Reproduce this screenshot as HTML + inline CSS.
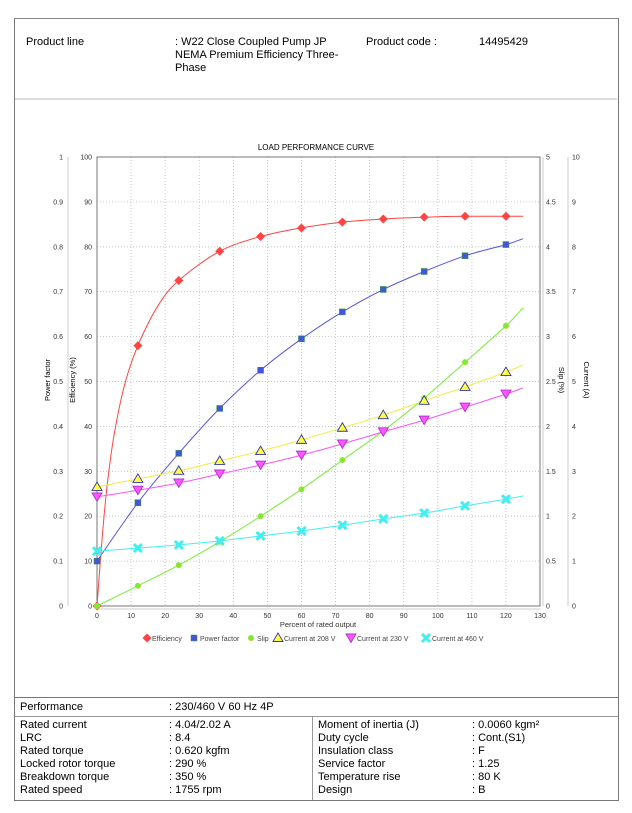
<!DOCTYPE html>
<html><head><meta charset="utf-8"><style>
body{margin:0;background:#fff;width:632px;height:813px;position:relative;font-family:"Liberation Sans",sans-serif;overflow:hidden}
.t{position:absolute;font-size:11px;color:#000;white-space:nowrap;line-height:13px}
</style></head><body>
<div style="position:absolute;left:14px;top:18px;width:603px;height:781px;border:1px solid #777;border-top:1px solid #888"></div>
<div style="position:absolute;left:15px;top:98px;width:602px;height:2px;background:#ddd"></div>
<div class="t" style="left:26px;top:36px">Product line</div>
<div class="t" style="left:175px;top:36px">: W22 Close Coupled Pump JP<br>NEMA Premium Efficiency Three-<br>Phase</div>
<div class="t" style="left:366px;top:36px">Product code :</div>
<div class="t" style="left:479px;top:36px">14495429</div>
<div style="position:absolute;left:14px;top:697px;width:604px;height:1px;background:#777"></div>
<div style="position:absolute;left:14px;top:716px;width:604px;height:1px;background:#999"></div>
<div style="position:absolute;left:312px;top:716px;width:1px;height:84px;background:#999"></div>
<div class="t" style="left:20px;top:701px">Performance</div>
<div class="t" style="left:169px;top:701px">: 230/460 V 60 Hz 4P</div>
<div class="t" style="left:20px;top:719px">Rated current<br>LRC<br>Rated torque<br>Locked rotor torque<br>Breakdown torque<br>Rated speed</div>
<div class="t" style="left:169px;top:719px">: 4.04/2.02 A<br>: 8.4<br>: 0.620 kgfm<br>: 290 %<br>: 350 %<br>: 1755 rpm</div>
<div class="t" style="left:318px;top:719px">Moment of inertia (J)<br>Duty cycle<br>Insulation class<br>Service factor<br>Temperature rise<br>Design</div>
<div class="t" style="left:472px;top:719px">: 0.0060 kgm²<br>: Cont.(S1)<br>: F<br>: 1.25<br>: 80 K<br>: B</div>

<svg id="c" width="632" height="813" style="position:absolute;left:0;top:0" font-family="Liberation Sans, sans-serif" font-size="7">
<text x="316" y="150" font-size="8" text-anchor="middle">LOAD PERFORMANCE CURVE</text>
<g id="grid" stroke="#bbb" stroke-dasharray="1,2" stroke-width="0.8"></g>
<rect x="97" y="157" width="443" height="449" fill="none" stroke="#555" stroke-width="0.8"/>
<line x1="68" y1="157" x2="68" y2="606" stroke="#ccc"/>
<line x1="568" y1="157" x2="568" y2="606" stroke="#ccc"/>
<line x1="543" y1="157" x2="543" y2="606" stroke="#ccc"/>
<line x1="97" y1="609" x2="540" y2="609" stroke="#ccc"/>
<g text-anchor="end" fill="#333">
<text x="63" y="608.5">0</text><text x="63" y="563.6">0.1</text><text x="63" y="518.7">0.2</text><text x="63" y="473.8">0.3</text><text x="63" y="428.9">0.4</text><text x="63" y="384">0.5</text><text x="63" y="339.1">0.6</text><text x="63" y="294.2">0.7</text><text x="63" y="249.3">0.8</text><text x="63" y="204.4">0.9</text><text x="63" y="159.5">1</text>
<text x="92" y="608.5">0</text><text x="92" y="563.6">10</text><text x="92" y="518.7">20</text><text x="92" y="473.8">30</text><text x="92" y="428.9">40</text><text x="92" y="384">50</text><text x="92" y="339.1">60</text><text x="92" y="294.2">70</text><text x="92" y="249.3">80</text><text x="92" y="204.4">90</text><text x="92" y="159.5">100</text>
</g>
<g fill="#333">
<text x="546" y="608.5">0</text><text x="546" y="563.6">0.5</text><text x="546" y="518.7">1</text><text x="546" y="473.8">1.5</text><text x="546" y="428.9">2</text><text x="546" y="384">2.5</text><text x="546" y="339.1">3</text><text x="546" y="294.2">3.5</text><text x="546" y="249.3">4</text><text x="546" y="204.4">4.5</text><text x="546" y="159.5">5</text>
<text x="572" y="608.5">0</text><text x="572" y="563.6">1</text><text x="572" y="518.7">2</text><text x="572" y="473.8">3</text><text x="572" y="428.9">4</text><text x="572" y="384">5</text><text x="572" y="339.1">6</text><text x="572" y="294.2">7</text><text x="572" y="249.3">8</text><text x="572" y="204.4">9</text><text x="572" y="159.5">10</text>
</g>
<g text-anchor="middle" fill="#333">
<text x="97" y="618">0</text><text x="131.1" y="618">10</text><text x="165.2" y="618">20</text><text x="199.2" y="618">30</text><text x="233.3" y="618">40</text><text x="267.4" y="618">50</text><text x="301.5" y="618">60</text><text x="335.6" y="618">70</text><text x="369.6" y="618">80</text><text x="403.7" y="618">90</text><text x="437.8" y="618">100</text><text x="471.9" y="618">110</text><text x="505.9" y="618">120</text><text x="540" y="618">130</text>
<text x="318" y="627" font-size="7.5">Percent of rated output</text>
</g>
<text transform="translate(50,380) rotate(-90)" text-anchor="middle" font-size="7.5">Power factor</text>
<text transform="translate(75,380) rotate(-90)" text-anchor="middle" font-size="7.5">Efficiency (%)</text>
<text transform="translate(559,380) rotate(90)" text-anchor="middle" font-size="7.5">Slip (%)</text>
<text transform="translate(584,380) rotate(90)" text-anchor="middle" font-size="7.5">Current (A)</text>
<g id="series"></g>
<g id="legend" fill="#444" font-size="7">
<text x="152" y="641">Efficiency</text><text x="200" y="641">Power factor</text><text x="257" y="641">Slip</text><text x="284" y="641">Current at 208 V</text><text x="357" y="641">Current at 230 V</text><text x="432" y="641">Current at 460 V</text>
</g>
</svg>
<script>
var NS="http://www.w3.org/2000/svg",g=document.getElementById('grid'),s=document.getElementById('series'),L=document.getElementById('legend');
function el(p,n,a){var e=document.createElementNS(NS,n);for(var k in a)e.setAttribute(k,a[k]);p.appendChild(e);return e;}
for(var i=1;i<13;i++){var x=97+i*34.08;el(g,'line',{x1:x,y1:157,x2:x,y2:606});}
for(var i=1;i<10;i++){var y=606-i*44.9;el(g,'line',{x1:97,y1:y,x2:540,y2:y});}
function X(v){return 97+v*3.408}
function Y(f){return 606-f*449}
var S=[
{c:'#f44',m:'d',curve:[[0,0],[1.5,.15],[3,.27],[5,.38],[8,.49],[12,.58],[18,.67],[24,.725],[36,.79],[48,.823],[60,.842],[72,.855],[84,.862],[96,.866],[108,.868],[120,.868],[125,.868]],pts:[[12,.58],[24,.725],[36,.79],[48,.823],[60,.842],[72,.855],[84,.862],[96,.866],[108,.868],[120,.868]]},
{c:'#55d',m:'s',curve:[[0,.1],[12,.23],[24,.34],[36,.44],[48,.525],[60,.595],[72,.655],[84,.705],[96,.745],[108,.78],[120,.805],[125,.818]],pts:[[0,.1],[12,.23],[24,.34],[36,.44],[48,.525],[60,.595],[72,.655],[84,.705],[96,.745],[108,.78],[120,.805]]},
{c:'#7e3',m:'c',curve:[[0,0],[12,.045],[24,.091],[36,.143],[48,.2],[60,.26],[72,.325],[84,.39],[96,.463],[108,.543],[120,.624],[125,.664]]},
{c:'#ee4',m:'t',curve:[[0,.265],[12,.283],[24,.301],[36,.323],[48,.345],[60,.37],[72,.397],[84,.425],[96,.457],[108,.488],[120,.521],[125,.537]]},
{c:'#f5f',m:'v',curve:[[0,.243],[12,.258],[24,.274],[36,.294],[48,.314],[60,.336],[72,.361],[84,.388],[96,.414],[108,.443],[120,.472],[125,.486]]},
{c:'#4ee',m:'x',curve:[[0,.122],[12,.129],[24,.136],[36,.145],[48,.156],[60,.167],[72,.18],[84,.194],[96,.207],[108,.223],[120,.238],[125,.245]]}
];
function mark(p,m,x,y){
 if(m=='d')el(p,'path',{d:'M'+x+','+(y-4.5)+'l4.5,4.5l-4.5,4.5l-4.5,-4.5z',fill:'#f44'});
 if(m=='s')el(p,'rect',{x:x-3,y:y-3,width:6,height:6,fill:'#45d',stroke:'#393','stroke-width':.5});
 if(m=='c')el(p,'circle',{cx:x,cy:y,r:2.8,fill:'#7e3',stroke:'#cc3','stroke-width':.5});
 if(m=='t')el(p,'path',{d:'M'+x+','+(y-5)+'l5,8.5h-10z',fill:'#ff4',stroke:'#33a','stroke-width':.9});
 if(m=='v')el(p,'path',{d:'M'+(x-5)+','+(y-4)+'h10l-5,8.5z',fill:'#f5f',stroke:'#a3c','stroke-width':.9});
 if(m=='x')el(p,'path',{d:'M'+(x-4)+','+(y-4)+'l8,8M'+(x+4)+','+(y-4)+'l-8,8',stroke:'#4ee','stroke-width':3});
}
function cr(P){
 var d='M'+P[0][0].toFixed(1)+','+P[0][1].toFixed(1);
 for(var i=0;i<P.length-1;i++){
  var p0=P[i-1]||P[i],p1=P[i],p2=P[i+1],p3=P[i+2]||P[i+1];
  var c1=[p1[0]+(p2[0]-p0[0])/6,p1[1]+(p2[1]-p0[1])/6],c2=[p2[0]-(p3[0]-p1[0])/6,p2[1]-(p3[1]-p1[1])/6];
  d+='C'+c1[0].toFixed(1)+','+c1[1].toFixed(1)+' '+c2[0].toFixed(1)+','+c2[1].toFixed(1)+' '+p2[0].toFixed(1)+','+p2[1].toFixed(1);
 }
 return d;
}
S.forEach(function(q){
 var P=q.curve.map(function(p){return [X(p[0]),Y(p[1])]});
 el(s,'path',{d:cr(P),fill:'none',stroke:q.c,'stroke-width':1});
 var pts=q.pts||q.curve.slice(0,11);
 if(q.m=='c')pts=q.curve.slice(1,11);
 pts.forEach(function(p){mark(s,q.m,X(p[0]),Y(p[1]))});
});
mark(s,'d',97,606);mark(s,'c',97,606);
mark(L,'d',147,638);mark(L,'s',194,638);mark(L,'c',251,638);mark(L,'t',278,638);mark(L,'v',351,638);mark(L,'x',426,638);
</script>
</body></html>
